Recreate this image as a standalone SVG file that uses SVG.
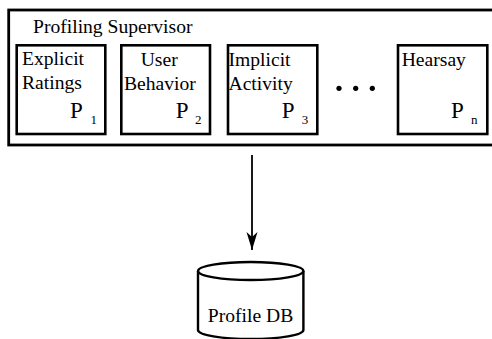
<svg xmlns="http://www.w3.org/2000/svg" width="492" height="339" viewBox="0 0 492 339">
<defs>
<style>
.box{fill:#fff;stroke:#000;stroke-width:2.6}
.t{font-family:"Liberation Serif","Times New Roman",serif;font-size:19.6px;fill:#000}
.p{font-family:"Liberation Serif","Times New Roman",serif;font-size:23px;fill:#000}
.s{font-family:"Liberation Serif","Times New Roman",serif;font-size:13px;fill:#000}
</style>
<marker id="ah" viewBox="0 0 18 12" refX="18" refY="6" markerWidth="18" markerHeight="12" markerUnits="userSpaceOnUse" orient="auto">
<path d="M0,0.5 L18,6 L0,11.5 L5,6 Z" fill="#000"/>
</marker>
</defs>
<rect width="492" height="339" fill="#fff"/>
<g id="supervisor">
<rect x="8.7" y="10" width="500" height="135" fill="#fff" stroke="#000" stroke-width="2.8"/>
<text class="t" x="33" y="33">Profiling Supervisor</text>
</g>
<g id="p1">
<rect class="box" x="16.7" y="45.3" width="88.6" height="88.7"/>
<text class="t" x="22" y="65">Explicit</text>
<text class="t" x="22" y="89">Ratings</text>
<text class="p" x="70" y="118">P</text>
<text class="s" x="90.5" y="124">1</text>
</g>
<g id="p2">
<rect class="box" x="121.3" y="45.3" width="88.7" height="88.7"/>
<text class="t" x="140.7" y="66">User</text>
<text class="t" x="124" y="90">Behavior</text>
<text class="p" x="175.7" y="118">P</text>
<text class="s" x="195" y="124">2</text>
</g>
<g id="p3">
<rect class="box" x="228" y="45.3" width="89.3" height="88.7"/>
<text class="t" x="228.5" y="66">Implicit</text>
<text class="t" x="228.5" y="90">Activity</text>
<text class="p" x="281.7" y="118">P</text>
<text class="s" x="301.7" y="124">3</text>
</g>
<g id="ellipsis">
<circle cx="339" cy="88.3" r="2.6" fill="#000"/>
<circle cx="355.7" cy="88.3" r="2.6" fill="#000"/>
<circle cx="372.3" cy="88.3" r="2.6" fill="#000"/>
</g>
<g id="pn">
<rect class="box" x="398" y="45.3" width="89.3" height="88.7"/>
<text class="t" x="401.7" y="66">Hearsay</text>
<text class="p" x="451" y="118">P</text>
<text class="s" x="471" y="124">n</text>
</g>
<g id="connectors">
<line x1="252" y1="155" x2="252" y2="250" stroke="#000" stroke-width="1.8" marker-end="url(#ah)"/>
</g>
<g id="profiledb">
<path d="M198,271 L198,330 A52.7,9 0 0 0 303.4,330 L303.4,271" fill="#fff" stroke="#000" stroke-width="2.4"/>
<ellipse cx="250.7" cy="271" rx="52.7" ry="9" fill="#fff" stroke="#000" stroke-width="2.4"/>
<text class="t" x="250.5" y="322" text-anchor="middle">Profile DB</text>
</g>
</svg>
